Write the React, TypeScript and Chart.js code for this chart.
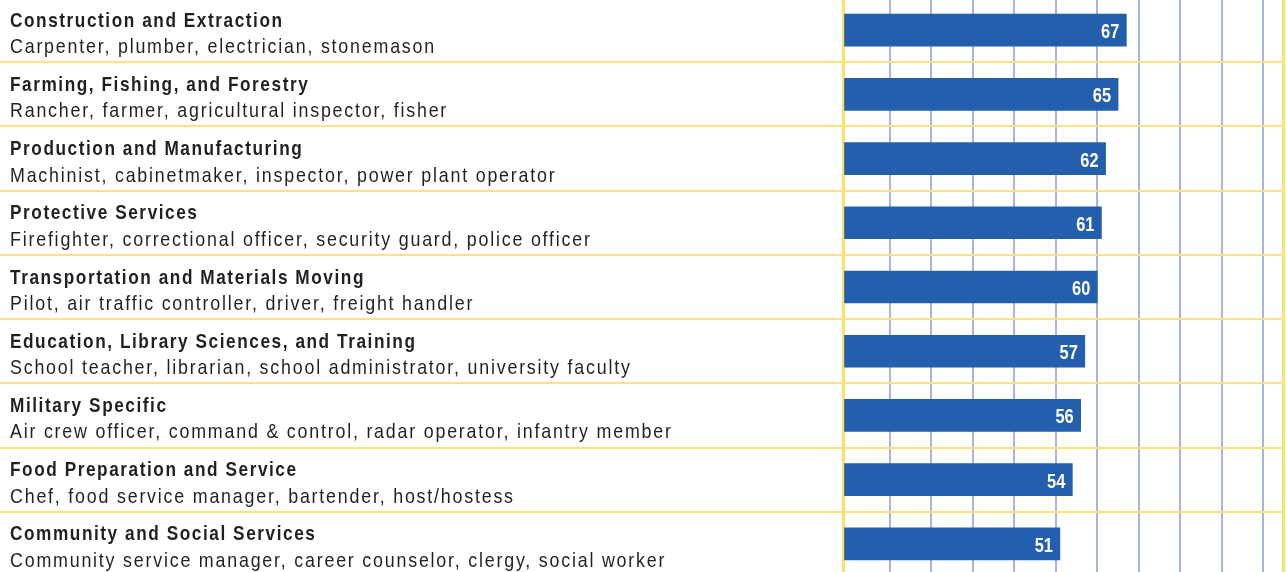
import React, { useEffect, useRef } from "react";
import { Chart, registerables } from "chart.js";

Chart.register(...registerables);

const CATEGORIES = [
  "Construction and Extraction",
  "Farming, Fishing, and Forestry",
  "Production and Manufacturing",
  "Protective Services",
  "Transportation and Materials Moving",
  "Education, Library Sciences, and Training",
  "Military Specific",
  "Food Preparation and Service",
  "Community and Social Services",
];

const EXAMPLES = [
  "Carpenter, plumber, electrician, stonemason",
  "Rancher, farmer, agricultural inspector, fisher",
  "Machinist, cabinetmaker, inspector, power plant operator",
  "Firefighter, correctional officer, security guard, police officer",
  "Pilot, air traffic controller, driver, freight handler",
  "School teacher, librarian, school administrator, university faculty",
  "Air crew officer, command & control, radar operator, infantry member",
  "Chef, food service manager, bartender, host/hostess",
  "Community service manager, career counselor, clergy, social worker",
];

const VALUES = [67, 65, 62, 61, 60, 57, 56, 54, 51];

const GRID_TICKS = [10, 20, 30, 40, 50, 60, 70, 80, 90, 100];
const X_MIN = -1.2;
const X_MAX = 104.7;

const BAR_COLOR = "#235fac";
const YELLOW = "#ffe27a";
const YELLOW_STRONG = "#ffdf66";
const GRID_BLUE = "#a9b4dc";
const TEXT_COLOR = "#231f20";
const LABEL_COL_WIDTH = 843;

// condensed look: regular sans drawn with horizontal compression
const TITLE_CONDENSE = 0.82;
const SUB_CONDENSE = 0.85;
const TITLE_FONT = 'bold 21px "Liberation Sans", Arial, sans-serif';
const SUB_FONT = '21px "Liberation Sans", Arial, sans-serif';
const VALUE_FONT = 'bold 20px "Liberation Sans", Arial, sans-serif';

function drawCondensed(
  ctx: CanvasRenderingContext2D,
  text: string,
  x: number,
  y: number,
  font: string,
  spacing: string,
  align: CanvasTextAlign,
  condense: number
) {
  ctx.save();
  ctx.translate(x, y);
  ctx.scale(condense, 1);
  ctx.font = font;
  (ctx as any).letterSpacing = spacing;
  ctx.textAlign = align;
  ctx.textBaseline = "alphabetic";
  ctx.fillText(text, 0, 0);
  ctx.restore();
}

const rowsPlugin = {
  id: "rowsPlugin",
  beforeDatasetsDraw(chart: any) {
    const { ctx, scales } = chart;
    const y = scales.y;
    const x = scales.x;
    ctx.save();
    ctx.strokeStyle = YELLOW;
    ctx.lineWidth = 2;
    for (let i = 0; i <= CATEGORIES.length; i++) {
      const py = Math.round(y.getPixelForValue(i - 0.5));
      ctx.beginPath();
      ctx.moveTo(0, py);
      ctx.lineTo(x.right, py);
      ctx.stroke();
    }
    ctx.restore();
  },
  afterDatasetsDraw(chart: any) {
    const { ctx, scales } = chart;
    const y = scales.y;
    const x = scales.x;
    ctx.save();
    ctx.fillStyle = TEXT_COLOR;
    CATEGORIES.forEach((cat, i) => {
      const c = y.getPixelForValue(i);
      drawCondensed(ctx, cat, 10, c - 3.5, TITLE_FONT, "1.9px", "left", TITLE_CONDENSE);
      drawCondensed(ctx, EXAMPLES[i], 10, c + 23, SUB_FONT, "2.1px", "left", SUB_CONDENSE);
    });
    ctx.fillStyle = "#ffffff";
    VALUES.forEach((v, i) => {
      const c = y.getPixelForValue(i);
      const px = x.getPixelForValue(v);
      drawCondensed(ctx, String(v), px - 7, c + 8, VALUE_FONT, "0px", "right", TITLE_CONDENSE);
    });
    ctx.restore();
  },
};

export default function App() {
  const canvasRef = useRef<HTMLCanvasElement | null>(null);

  useEffect(() => {
    if (!canvasRef.current) return;
    const chart = new Chart(canvasRef.current, {
      type: "bar",
      data: {
        labels: CATEGORIES,
        datasets: [
          {
            data: VALUES,
            backgroundColor: BAR_COLOR,
            barThickness: 32,
            base: X_MIN,
            borderWidth: 0,
          } as any,
        ],
      },
      options: {
        indexAxis: "y",
        responsive: false,
        animation: false,
        layout: { padding: { left: 0, right: 4, top: 0, bottom: 0 } },
        plugins: {
          legend: { display: false },
          tooltip: { enabled: false },
        },
        scales: {
          x: {
            type: "linear",
            min: X_MIN,
            max: X_MAX,
            afterBuildTicks: (scale: any) => {
              scale.ticks = [X_MIN, ...GRID_TICKS, X_MAX].map((v) => ({ value: v }));
            },
            ticks: { display: false },
            grid: {
              drawTicks: false,
              color: (ctx: any) =>
                ctx.tick && (ctx.tick.value === X_MAX || ctx.tick.value === X_MIN)
                  ? YELLOW_STRONG
                  : GRID_BLUE,
              lineWidth: (ctx: any) =>
                ctx.tick && (ctx.tick.value === X_MAX || ctx.tick.value === X_MIN) ? 3 : 2,
            },
            border: { display: false },
          },
          y: {
            type: "category",
            ticks: { display: false },
            grid: { display: false, drawTicks: false },
            border: { display: true, color: YELLOW_STRONG, width: 3 },
            afterFit: (scale: any) => {
              scale.width = LABEL_COL_WIDTH;
            },
          },
        },
      } as any,
      plugins: [rowsPlugin],
    });
    return () => chart.destroy();
  }, []);

  return (
    <div
      style={{
        position: "fixed",
        left: 0,
        top: 0,
        width: 1287,
        height: 572,
        overflow: "hidden",
        background: "#ffffff",
      }}
    >
      <canvas
        ref={canvasRef}
        width={1287}
        height={578}
        style={{ position: "absolute", left: 0, top: -2, width: 1287, height: 578 }}
      />
    </div>
  );
}
